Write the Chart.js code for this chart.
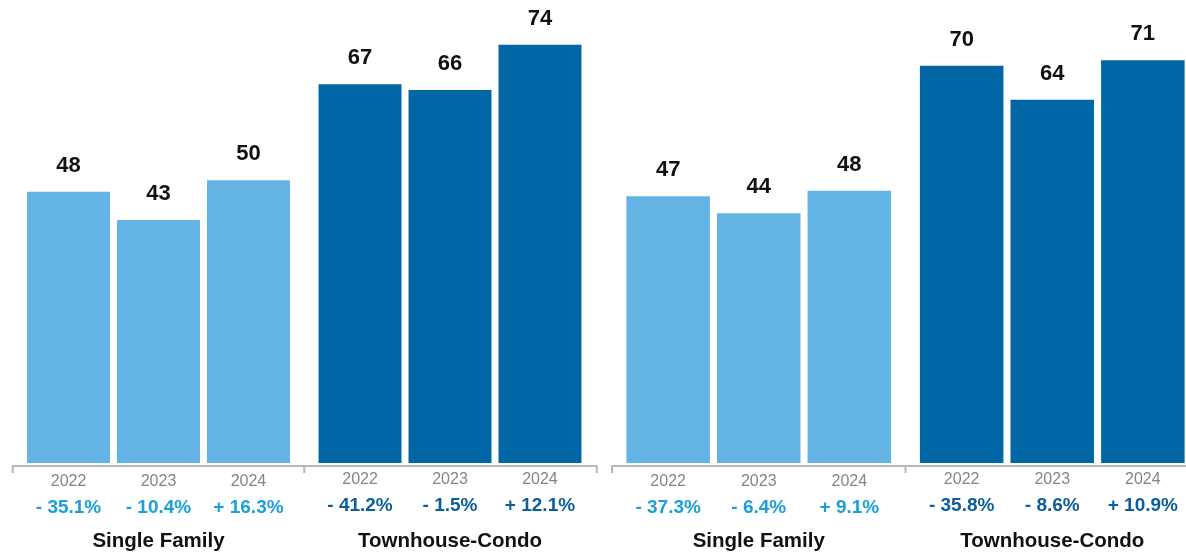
<!DOCTYPE html>
<html>
<head>
<meta charset="utf-8">
<script src="https://cdn.jsdelivr.net/npm/chart.js@4.4.1/dist/chart.umd.min.js"></script>
<style>
  html, body { margin: 0; padding: 0; background: #fff; overflow: hidden; width: 1186px; height: 555px; }
  #c1 { position: absolute; left: 0; top: 0; }
  #c2 { position: absolute; left: 600px; top: 0; }
</style>
</head>
<body>
<canvas id="c1" width="600" height="555"></canvas>
<canvas id="c2" width="600" height="555"></canvas>
<script>
// ---- data ----
const categories = ['Single Family', 'Townhouse-Condo'];
const years = ['2022', '2023', '2024'];

const leftSingleFamily = [48, 43, 50];
const leftTownhouse = [67, 66, 74];
const leftSingleFamilyChange = ['- 35.1%', '- 10.4%', '+ 16.3%'];
const leftTownhouseChange = ['- 41.2%', '- 1.5%', '+ 12.1%'];

const rightSingleFamily = [47, 44, 48];
const rightTownhouse = [70, 64, 71];
const rightSingleFamilyChange = ['- 37.3%', '- 6.4%', '+ 9.1%'];
const rightTownhouseChange = ['- 35.8%', '- 8.6%', '+ 10.9%'];

// ---- styles ----
const FONT = '"Liberation Sans", Arial, Helvetica, sans-serif';
const barColors = ['#63b4e4', '#0066a5'];
const pctColors = ['#1a9fda', '#0b5e9a'];

function makeChart(canvasId, sf, tc, sfChg, tcChg, padLeft, padRight, yMax) {
  const changes = [sfChg, tcChg];
  const datasets = years.map((y, i) => ({
    label: y,
    data: [sf[i], tc[i]],
    backgroundColor: (ctx) => barColors[ctx.dataIndex],
    borderWidth: 0,
    categoryPercentage: 0.926,
    barPercentage: 0.922
  }));

  const labelsPlugin = {
    id: 'labels' + canvasId,
    afterDraw(chart) {
      const ctx = chart.ctx;
      const area = chart.chartArea;
      const xs = chart.scales.x;
      ctx.save();
      // axis line with ticks
      const ly = area.bottom + 3;
      const mid = (xs.getPixelForValue(0) + xs.getPixelForValue(1)) / 2;
      ctx.strokeStyle = '#b8b8b8';
      ctx.lineWidth = 2;
      ctx.beginPath();
      ctx.moveTo(area.left, ly + 7);
      ctx.lineTo(area.left, ly);
      ctx.lineTo(area.right + 1, ly);
      ctx.lineTo(area.right + 1, ly + 7);
      ctx.moveTo(mid, ly);
      ctx.lineTo(mid, ly + 7);
      ctx.stroke();

      ctx.textAlign = 'center';
      ctx.textBaseline = 'alphabetic';
      chart.data.datasets.forEach((ds, di) => {
        const meta = chart.getDatasetMeta(di);
        meta.data.forEach((bar, ci) => {
          const off = ci === 1 ? -2 : 0;
          // value label
          ctx.fillStyle = '#111';
          ctx.font = 'bold 22px ' + FONT;
          ctx.fillText(String(ds.data[ci]), bar.x, bar.y - 20);
          // year label
          ctx.fillStyle = '#858585';
          ctx.font = '16px ' + FONT;
          ctx.fillText(years[di], bar.x, 486 + off);
          // change label
          ctx.fillStyle = pctColors[ci];
          ctx.font = 'bold 19px ' + FONT;
          ctx.fillText(changes[ci][di], bar.x, 513 + off);
        });
      });
      // group labels
      ctx.fillStyle = '#111';
      ctx.font = 'bold 20.5px ' + FONT;
      categories.forEach((c, ci) => {
        ctx.fillText(c, xs.getPixelForValue(ci), 547);
      });
      ctx.restore();
    }
  };

  return new Chart(document.getElementById(canvasId), {
    type: 'bar',
    data: { labels: categories, datasets },
    options: {
      responsive: false,
      animation: false,
      devicePixelRatio: 1,
      layout: { padding: { left: padLeft, right: padRight, top: 0, bottom: 92 } },
      plugins: { legend: { display: false }, tooltip: { enabled: false } },
      scales: {
        x: { display: false },
        y: { display: false, min: 0, max: yMax }
      }
    },
    plugins: [labelsPlugin]
  });
}

makeChart('c1', leftSingleFamily, leftTownhouse, leftSingleFamilyChange, leftTownhouseChange, 12.75, 4.25, 81.9);
makeChart('c2', rightSingleFamily, rightTownhouse, rightSingleFamilyChange, rightTownhouseChange, 12, 1, 81.6);
</script>
</body>
</html>
